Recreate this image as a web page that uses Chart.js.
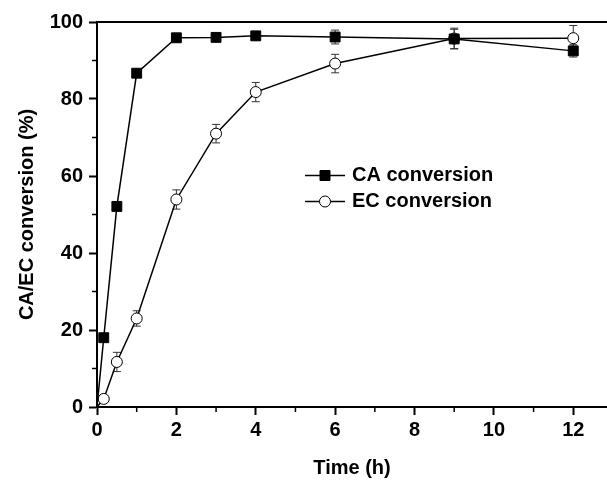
<!DOCTYPE html>
<html>
<head>
<meta charset="utf-8">
<script src="https://cdn.jsdelivr.net/npm/chart.js@4.4.1/dist/chart.umd.min.js"></script>
<style>
  body { margin: 0; background: #fff; }
  canvas { display: block; }
</style>
</head>
<body>
<canvas id="grafico" width="607" height="484"></canvas>
<script>
// datos
const tiempos  = [0, 0.17, 0.5, 1, 2, 3, 4, 6, 9, 12];
const convCA   = [0, 18.0, 52.1, 86.7, 95.9, 96.0, 96.4, 96.1, 95.6, 92.5];
const errCA    = [0, 0.5, 0.8, 0.8, 0.8, 0.8, 1.0, 1.8, 2.5, 1.6];
const convEC   = [0, 2.1, 11.7, 23.0, 53.9, 71.0, 81.8, 89.2, 95.7, 95.8];
const errEC    = [0, 0.8, 2.5, 2.0, 2.5, 2.4, 2.5, 2.4, 2.7, 3.3];
const ticksX   = [0, 2, 4, 6, 8, 10, 12];
const menoresX = [1, 3, 5, 7, 9, 11];
const menoresY = [10, 30, 50, 70, 90];

const FUENTE = 'Liberation Sans, Arial, sans-serif';

function puntos(ys) {
  return tiempos.map((t, i) => ({ x: t, y: ys[i] }));
}

// barras de error, ticks menores, borde superior y leyenda
const extras = {
  id: 'extras',
  beforeDatasetsDraw(chart) {
    const ctx = chart.ctx;
    const sx = chart.scales.x, sy = chart.scales.y;
    ctx.save();
    ctx.strokeStyle = '#333';
    ctx.lineWidth = 1;
    [[convCA, errCA], [convEC, errEC]].forEach(([vals, errs]) => {
      for (let i = 1; i < tiempos.length; i++) {
        const px = sx.getPixelForValue(tiempos[i]);
        const y1 = sy.getPixelForValue(vals[i] + errs[i]);
        const y2 = sy.getPixelForValue(vals[i] - errs[i]);
        ctx.beginPath();
        ctx.moveTo(px, y1); ctx.lineTo(px, y2);
        ctx.moveTo(px - 4, y1); ctx.lineTo(px + 4, y1);
        ctx.moveTo(px - 4, y2); ctx.lineTo(px + 4, y2);
        ctx.stroke();
      }
    });
    ctx.restore();
  },
  afterDraw(chart) {
    const ctx = chart.ctx;
    const a = chart.chartArea;
    const sx = chart.scales.x, sy = chart.scales.y;
    ctx.save();
    ctx.strokeStyle = '#000';
    ctx.lineWidth = 2;
    ctx.beginPath();
    ctx.moveTo(a.left - 1, a.top);
    ctx.lineTo(a.right, a.top);
    ctx.stroke();
    ctx.lineWidth = 1.5;
    menoresX.forEach(v => {
      const px = sx.getPixelForValue(v);
      ctx.beginPath(); ctx.moveTo(px, a.bottom); ctx.lineTo(px, a.bottom + 5); ctx.stroke();
    });
    menoresY.forEach(v => {
      const py = sy.getPixelForValue(v);
      ctx.beginPath(); ctx.moveTo(a.left, py); ctx.lineTo(a.left - 5, py); ctx.stroke();
    });

    // leyenda
    const items = [
      { texto: 'CA conversion', ds: 0, y: 175.5 },
      { texto: 'EC conversion', ds: 1, y: 201.5 }
    ];
    items.forEach(it => {
      const d = chart.data.datasets[it.ds];
      ctx.strokeStyle = '#000';
      ctx.lineWidth = 1.5;
      ctx.beginPath(); ctx.moveTo(305, it.y); ctx.lineTo(345, it.y); ctx.stroke();
      ctx.fillStyle = d.pointBackgroundColor;
      ctx.strokeStyle = '#000';
      ctx.lineWidth = 1;
      ctx.beginPath();
      if (d.pointStyle === 'rect') {
        ctx.rect(325 - 5, it.y - 5, 10, 10);
      } else {
        ctx.arc(325, it.y, 5.5, 0, Math.PI * 2);
      }
      ctx.fill(); ctx.stroke();
      ctx.fillStyle = '#000';
      ctx.font = 'bold 20px ' + FUENTE;
      ctx.textBaseline = 'middle';
      ctx.textAlign = 'left';
      ctx.fillText(it.texto, 352, it.y);
    });
    ctx.restore();
  }
};

const grafico = new Chart(document.getElementById('grafico'), {
  type: 'line',
  data: {
    datasets: [{
      label: 'CA conversion',
      data: puntos(convCA),
      borderColor: '#000',
      borderWidth: 1.5,
      pointStyle: 'rect',
      pointRadius: tiempos.map((t, i) => i === 0 ? 0 : 7),
      pointBackgroundColor: '#000',
      pointBorderColor: '#000',
      pointBorderWidth: 1,
      tension: 0
    }, {
      label: 'EC conversion',
      data: puntos(convEC),
      borderColor: '#000',
      borderWidth: 1.5,
      pointStyle: 'circle',
      pointRadius: tiempos.map((t, i) => i === 0 ? 0 : 5.5),
      pointBackgroundColor: '#fff',
      pointBorderColor: '#000',
      pointBorderWidth: 1,
      tension: 0
    }]
  },
  options: {
    responsive: false,
    animation: false,
    devicePixelRatio: 1,
    layout: { autoPadding: false, padding: { top: 22, right: 0, left: 0, bottom: 0 } },
    plugins: { legend: { display: false }, tooltip: { enabled: false } },
    scales: {
      x: {
        type: 'linear',
        min: 0,
        max: 12.85,
        afterFit: s => { s.height = 77; s.paddingRight = 0; s.paddingLeft = 0; },
        afterBuildTicks: s => { s.ticks = ticksX.map(v => ({ value: v })); },
        ticks: {
          color: '#000',
          font: { family: FUENTE, size: 20, weight: 'bold' },
          padding: 3,
          maxRotation: 0
        },
        grid: { drawOnChartArea: false, drawTicks: true, tickLength: 8, tickWidth: 2, color: '#000' },
        border: { display: true, color: '#000', width: 2 },
        title: {
          display: true,
          text: 'Time (h)',
          color: '#000',
          font: { family: FUENTE, size: 20, weight: 'bold' },
          padding: { top: 0, bottom: 4 }
        }
      },
      y: {
        min: 0,
        max: 100,
        afterFit: s => { s.width = 97; },
        ticks: {
          stepSize: 20,
          color: '#000',
          font: { family: FUENTE, size: 20, weight: 'bold' },
          padding: 6
        },
        grid: { drawOnChartArea: false, drawTicks: true, tickLength: 8, tickWidth: 2, color: '#000' },
        border: { display: true, color: '#000', width: 2 },
        title: {
          display: true,
          text: 'CA/EC conversion (%)',
          color: '#000',
          font: { family: FUENTE, size: 20, weight: 'bold' },
          padding: { top: 15, bottom: 0 }
        }
      }
    }
  },
  plugins: [extras]
});
</script>
</body>
</html>
